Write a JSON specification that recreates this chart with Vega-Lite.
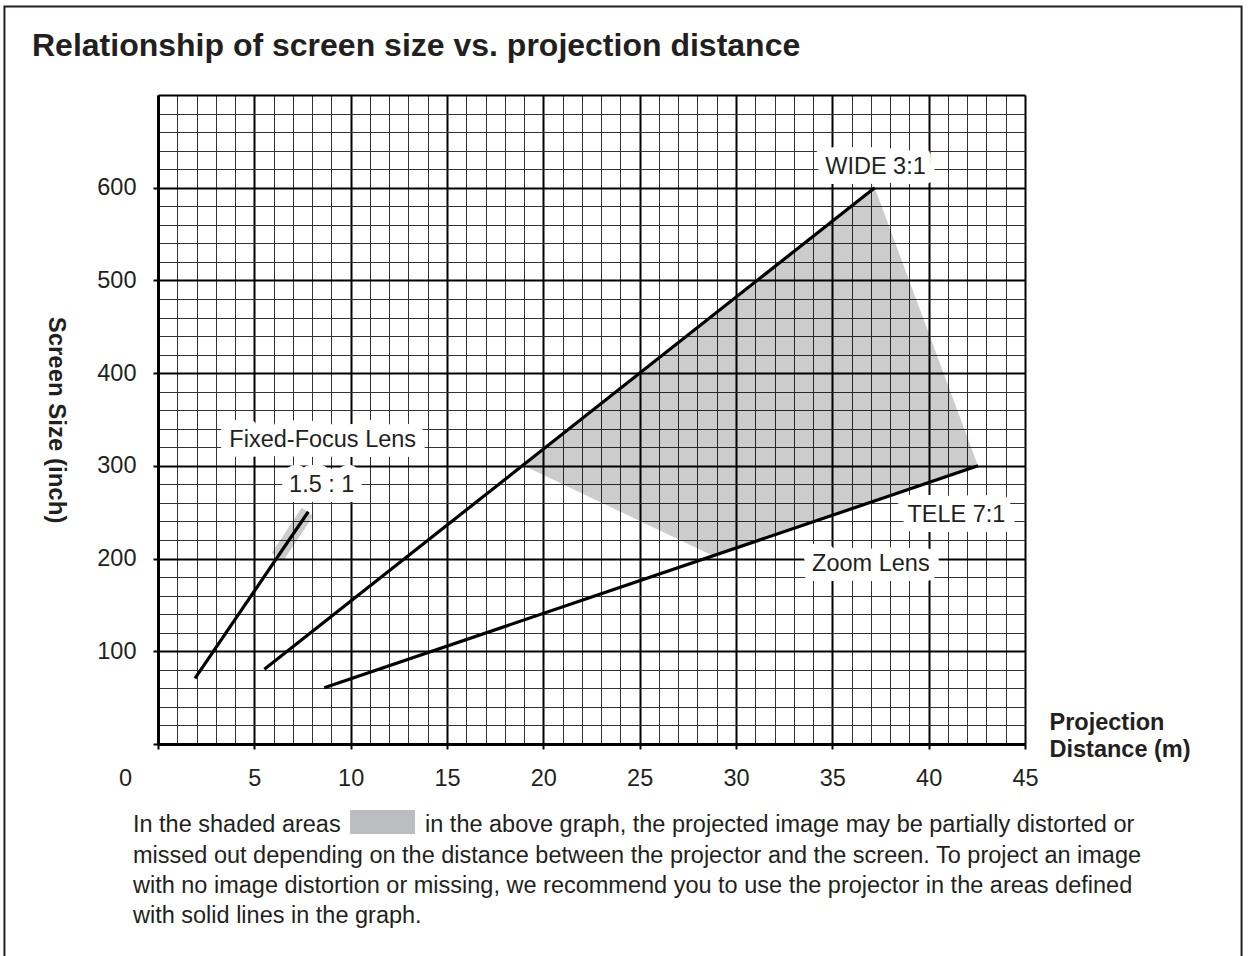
{
  "$schema": "https://vega.github.io/schema/vega-lite/v6.json",
  "width": 867,
  "height": 649,
  "autosize": {"type": "none"},
  "padding": {"left": 158, "top": 95, "right": 226, "bottom": 212},
  "background": "white",
  "config": {"view": {"stroke": null}, "font": "Liberation Sans"},
  "title": {
    "text": "Relationship of screen size vs. projection distance",
    "anchor": "start",
    "frame": "group",
    "dx": -126,
    "offset": -82.5,
    "baseline": "alphabetic",
    "fontSize": 32,
    "fontWeight": "bold",
    "color": "#231f20",
    "font": "Liberation Sans"
  },
  "datasets": {
    "lenslines": [
      {"lens": "Fixed-Focus 1.5:1", "x": 1.92, "y": 70.8},
      {"lens": "Fixed-Focus 1.5:1", "x": 7.8, "y": 250.5},
      {"lens": "Zoom WIDE 3:1", "x": 5.52, "y": 80.6},
      {"lens": "Zoom WIDE 3:1", "x": 37.2, "y": 600},
      {"lens": "Zoom TELE 7:1", "x": 8.63, "y": 60.7},
      {"lens": "Zoom TELE 7:1", "x": 42.56, "y": 300}
    ],
    "shaded": [
      {"region": "zoom", "x": 19.0, "lo": 300, "hi": 300},
      {"region": "zoom", "x": 28.8, "lo": 203, "hi": 462.3},
      {"region": "zoom", "x": 37.2, "lo": 262.2, "hi": 600},
      {"region": "zoom", "x": 42.56, "lo": 300, "hi": 300},
      {"region": "fixed", "x": 5.9, "lo": 206.3, "hi": 206.3},
      {"region": "fixed", "x": 6.5, "lo": 197.7, "hi": 225.0},
      {"region": "fixed", "x": 7.46, "lo": 227.4, "hi": 254.9},
      {"region": "fixed", "x": 8.06, "lo": 245.9, "hi": 245.9}
    ],
    "labels": [
      {"label": "WIDE 3:1", "x": 37.24, "y": 614.8},
      {"label": "TELE 7:1", "x": 41.44, "y": 239.0},
      {"label": "Zoom Lens", "x": 37.0, "y": 186.6},
      {"label": "Fixed-Focus Lens", "x": 8.55, "y": 320.0},
      {"label": "1.5 : 1", "x": 8.5, "y": 272.1}
    ]
  },
  "encoding": {
    "x": {
      "type": "quantitative",
      "scale": {"domain": [0, 45], "nice": false, "zero": false},
      "axis": {
        "values": [0,1,2,3,4,5,6,7,8,9,10,11,12,13,14,15,16,17,18,19,20,21,22,23,24,25,26,27,28,29,30,31,32,33,34,35,36,37,38,39,40,41,42,43,44,45],
        "format": "d",
        "grid": true,
        "gridColor": {"condition": {"test": "datum.value % 5 === 0", "value": "#000000"}, "value": "#333333"},
        "gridWidth": {"condition": {"test": "datum.value % 5 === 0", "value": 2}, "value": 1},
        "gridOpacity": 1,
        "domain": true, "domainColor": "#000000", "domainWidth": 3,
        "ticks": true, "tickSize": 5, "tickWidth": 2, "tickColor": "#000000",
        "tickOpacity": {"condition": {"test": "datum.value % 5 === 0", "value": 1}, "value": 0},
        "labelExpr": "datum.value % 5 === 0 ? datum.label : ''",
        "labelFont": "Liberation Sans", "labelFontSize": 23.5, "labelColor": "#231f20",
        "labelPadding": 17,
        "labelOffset": {"condition": {"test": "datum.value === 0", "value": -33}, "value": 0},
        "labelFlush": false, "labelOverlap": false, "labelBound": false,
        "title": ["Projection", "Distance (m)"],
        "titleFont": "Liberation Sans", "titleFontSize": 23.5, "titleFontWeight": "bold", "titleColor": "#231f20",
        "titleX": 891, "titleY": -15, "titleAlign": "left", "titleBaseline": "alphabetic",
        "titleLineHeight": 27, "titleAngle": 0
      }
    },
    "y": {
      "type": "quantitative",
      "scale": {"domain": [0, 700], "nice": false, "zero": false},
      "axis": {
        "values": [0,20,40,60,80,100,120,140,160,180,200,220,240,260,280,300,320,340,360,380,400,420,440,460,480,500,520,540,560,580,600,620,640,660,680,700],
        "format": "d",
        "grid": true,
        "gridColor": {"condition": {"test": "datum.value % 100 === 0", "value": "#000000"}, "value": "#333333"},
        "gridWidth": {"condition": {"test": "datum.value % 100 === 0", "value": 2}, "value": 1},
        "gridOpacity": 1,
        "domain": true, "domainColor": "#000000", "domainWidth": 3,
        "ticks": true, "tickSize": 5, "tickWidth": 2, "tickColor": "#000000",
        "tickOpacity": {"condition": {"test": "datum.value % 100 === 0 && datum.value < 700", "value": 1}, "value": 0},
        "labelExpr": "datum.value % 100 === 0 && datum.value > 0 && datum.value < 700 ? datum.label : ''",
        "labelFont": "Liberation Sans", "labelFontSize": 23.5, "labelColor": "#231f20",
        "labelPadding": 17,
        "labelOverlap": false, "labelBound": false, "labelFlush": false,
        "title": "Screen Size (inch)",
        "titleFont": "Liberation Sans", "titleFontSize": 24, "titleFontWeight": "bold", "titleColor": "#231f20",
        "titleAngle": 90, "titleX": -103, "titleY": 324.5, "titleAlign": "center", "titleBaseline": "middle"
      }
    }
  },
  "layer": [
    {
      "data": {"name": "shaded"},
      "mark": {"type": "area", "color": "#000000", "opacity": 0.2, "interpolate": "linear"},
      "encoding": {
        "x": {"field": "x"},
        "y": {"field": "lo"},
        "y2": {"field": "hi"},
        "detail": {"field": "region"}
      }
    },
    {
      "data": {"name": "lenslines"},
      "mark": {"type": "line", "color": "#000000", "strokeWidth": 3.2, "strokeCap": "butt"},
      "encoding": {
        "x": {"field": "x"},
        "y": {"field": "y"},
        "detail": {"field": "lens"}
      }
    },
    {
      "data": {"name": "labels"},
      "mark": {"type": "text", "fill": "#ffffff", "stroke": "#ffffff", "strokeWidth": 20, "strokeJoin": "round", "fontSize": 23.5, "font": "Liberation Sans", "align": "center", "baseline": "alphabetic"},
      "encoding": {
        "x": {"field": "x"},
        "y": {"field": "y"},
        "text": {"field": "label"}
      }
    },
    {
      "data": {"name": "labels"},
      "mark": {"type": "text", "color": "#231f20", "fontSize": 23.5, "font": "Liberation Sans", "align": "center", "baseline": "alphabetic"},
      "encoding": {
        "x": {"field": "x"},
        "y": {"field": "y"},
        "text": {"field": "label"}
      }
    },
    {
      "data": {"values": [{"t": "In the shaded areas"}]},
      "mark": {"type": "text", "color": "#231f20", "fontSize": 23.5, "font": "Liberation Sans", "align": "left", "baseline": "alphabetic"},
      "encoding": {
        "x": {"datum": -1.3},
        "y": {"datum": -94.9},
        "text": {"field": "t"}
      }
    },
    {
      "data": {"values": [{"t": "shaded swatch"}]},
      "mark": {"type": "rect", "color": "#bcbdc1"},
      "encoding": {
        "x": {"datum": 9.97},
        "x2": {"datum": 13.34},
        "y": {"datum": -71.2},
        "y2": {"datum": -97.1}
      }
    },
    {
      "data": {"values": [{"t": "in the above graph, the projected image may be partially distorted or"}]},
      "mark": {"type": "text", "color": "#231f20", "fontSize": 23.5, "font": "Liberation Sans", "align": "left", "baseline": "alphabetic"},
      "encoding": {
        "x": {"datum": 13.86},
        "y": {"datum": -94.9},
        "text": {"field": "t"}
      }
    },
    {
      "data": {"values": [{"t": "missed out depending on the distance between the projector and the screen. To project an image\nwith no image distortion or missing, we recommend you to use the projector in the areas defined\nwith solid lines in the graph."}]},
      "mark": {"type": "text", "color": "#231f20", "fontSize": 23.5, "font": "Liberation Sans", "align": "left", "baseline": "alphabetic", "lineBreak": "\n", "lineHeight": 30},
      "encoding": {
        "x": {"datum": -1.3},
        "y": {"datum": -128.4},
        "text": {"field": "t"}
      }
    },
    {
      "data": {"values": [{"t": "frame"}]},
      "mark": {"type": "rect", "filled": false, "color": "#231f20", "strokeWidth": 2},
      "encoding": {
        "x": {"datum": -7.97},
        "x2": {"datum": 56.24},
        "y": {"datum": 795.5},
        "y2": {"datum": -235.1}
      }
    }
  ]
}
